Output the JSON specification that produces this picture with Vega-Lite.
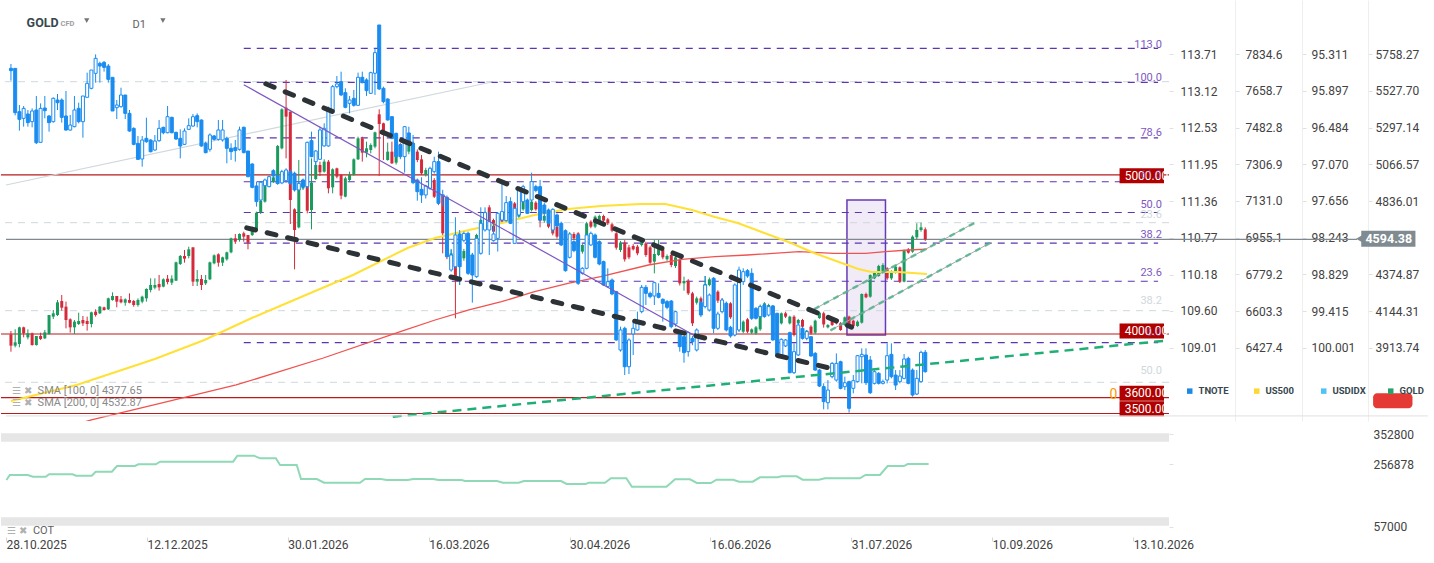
{
  "$schema": "https://vega.github.io/schema/vega-lite/v6.json",
  "background": "white",
  "padding": 0,
  "spacing": 1,
  "config": {"view": {"stroke": null}, "font": "Roboto"},
  "datasets": {
    "gold": [
      {"i":0,"o":3997.8,"h":4018.7,"l":3888.8,"c":3926.5},{"i":1,"o":3926.5,"h":4029.2,"l":3916,"c":3947.5},{"i":2,"o":3937,"h":4046,"l":3916,"c":4041.8},
      {"i":3,"o":4041.8,"h":4046,"l":3979,"c":4004.1},{"i":4,"o":3979,"h":4029.2,"l":3966.3,"c":4004.1},{"i":5,"o":4004.1,"h":4008.3,"l":3926.5,"c":3930.7},
      {"i":6,"o":3930.7,"h":3987.3,"l":3926.5,"c":3987.3},{"i":7,"o":3987.3,"h":4008.3,"l":3962.2,"c":3968.4},{"i":8,"o":3972.6,"h":4025.1,"l":3968.4,"c":4010.4},
      {"i":9,"o":3999.9,"h":4119.4,"l":3995.7,"c":4119.4},{"i":10,"o":4108.9,"h":4150.8,"l":4094.2,"c":4129.8},{"i":11,"o":4119.4,"h":4213.6,"l":4113,"c":4199},
      {"i":12,"o":4207.3,"h":4245.1,"l":4146.6,"c":4165.4},{"i":13,"o":4171.7,"h":4203.2,"l":4035.5,"c":4087.9},{"i":14,"o":4092.1,"h":4098.4,"l":4008.3,"c":4041.8},
      {"i":15,"o":4041.8,"h":4087.9,"l":3999.9,"c":4077.4},{"i":16,"o":4062.7,"h":4134,"l":4056.5,"c":4081.6},{"i":17,"o":4087.9,"h":4113,"l":4050.2,"c":4067},
      {"i":18,"o":4081.6,"h":4108.9,"l":4020.9,"c":4062.7},{"i":19,"o":4062.7,"h":4140.3,"l":4041.8,"c":4136.1},{"i":20,"o":4140.3,"h":4154.9,"l":4108.9,"c":4119.4},
      {"i":21,"o":4129.8,"h":4175.9,"l":4125.6,"c":4171.7},{"i":22,"o":4167.5,"h":4171.7,"l":4146.6,"c":4150.8},{"i":23,"o":4154.9,"h":4228.3,"l":4150.8,"c":4224.1},
      {"i":24,"o":4213.6,"h":4261.8,"l":4209.4,"c":4238.8},{"i":25,"o":4238.8,"h":4238.8,"l":4167.5,"c":4203.2},{"i":26,"o":4217.8,"h":4238.8,"l":4192.7,"c":4199},
      {"i":27,"o":4196.9,"h":4224.1,"l":4178,"c":4217.8},{"i":28,"o":4213.6,"h":4255.5,"l":4192.7,"c":4196.9},{"i":29,"o":4207.3,"h":4213.6,"l":4171.7,"c":4182.2},
      {"i":30,"o":4182.2,"h":4224.1,"l":4171.7,"c":4213.6},{"i":31,"o":4203.2,"h":4240.9,"l":4192.7,"c":4234.6},{"i":32,"o":4224.1,"h":4287,"l":4203.2,"c":4282.8},
      {"i":33,"o":4276.5,"h":4349.9,"l":4261.8,"c":4307.9},{"i":34,"o":4291.2,"h":4349.9,"l":4280.7,"c":4307.9},{"i":35,"o":4314.2,"h":4370.8,"l":4272.3,"c":4293.3},
      {"i":36,"o":4297.5,"h":4349.9,"l":4293.3,"c":4343.6},{"i":37,"o":4347.8,"h":4370.8,"l":4312.1,"c":4326.8},{"i":38,"o":4322.6,"h":4368.7,"l":4307.9,"c":4347.8},
      {"i":39,"o":4335.2,"h":4454.7,"l":4333.1,"c":4450.5},{"i":40,"o":4440,"h":4496.6,"l":4433.7,"c":4490.3},{"i":41,"o":4490.3,"h":4528,"l":4448.4,"c":4473.5},
      {"i":42,"o":4490.3,"h":4549,"l":4475.6,"c":4532.2},{"i":43,"o":4544.8,"h":4544.8,"l":4301.6,"c":4328.9},{"i":44,"o":4328.9,"h":4402.2,"l":4301.6,"c":4345.7},
      {"i":45,"o":4345.7,"h":4370.8,"l":4276.5,"c":4307.9},{"i":46,"o":4318.5,"h":4370.9,"l":4308,"c":4339.4},{"i":47,"o":4343.6,"h":4454.7,"l":4339.4,"c":4450.5},
      {"i":48,"o":4444.2,"h":4500.8,"l":4437.9,"c":4494.5},{"i":49,"o":4500.8,"h":4507.1,"l":4423.3,"c":4448.4},{"i":50,"o":4448.4,"h":4486.1,"l":4427.5,"c":4481.9},
      {"i":51,"o":4469.4,"h":4517.5,"l":4461,"c":4513.4},{"i":52,"o":4513.4,"h":4605.6,"l":4507.1,"c":4601.4},{"i":53,"o":4601.4,"h":4628.6,"l":4565.8,"c":4580.4},
      {"i":54,"o":4590.9,"h":4632.8,"l":4580.4,"c":4628.6},{"i":55,"o":4632.8,"h":4643.3,"l":4580.4,"c":4611.9},{"i":56,"o":4622.3,"h":4622.3,"l":4532.2,"c":4574.1},
      {"i":57,"o":4622.3,"h":4674.7,"l":4616,"c":4649.6},{"i":58,"o":4649.6,"h":4769,"l":4643.3,"c":4762.7},{"i":59,"o":4762.7,"h":4842.4,"l":4754.3,"c":4838.2},
      {"i":60,"o":4831.9,"h":4947.2,"l":4825.6,"c":4943},{"i":61,"o":4947.2,"h":4993.3,"l":4943,"c":4989.1},{"i":62,"o":4957.7,"h":5000,"l":4950,"c":4984.9},
      {"i":63,"o":4957.7,"h":5188.2,"l":4947.2,"c":5181.9},{"i":64,"o":5167.2,"h":5418.7,"l":5160.9,"c":5412.4},{"i":65,"o":5422.9,"h":5596.8,"l":5104.3,"c":5366.3},
      {"i":66,"o":5397.7,"h":5397.7,"l":4691.5,"c":4842.4},{"i":67,"o":4783.7,"h":4790,"l":4406.5,"c":4653.8},{"i":68,"o":4670.5,"h":5093.9,"l":4664.2,"c":4947.2},
      {"i":69,"o":4915.7,"h":4972.3,"l":4905.2,"c":4968.1},{"i":70,"o":5104.3,"h":5114.8,"l":4758.6,"c":4775.3},{"i":71,"o":4779.5,"h":5104.3,"l":4658,"c":4951.4},
      {"i":72,"o":4974.4,"h":5093.9,"l":4968.1,"c":5062.4},{"i":73,"o":5062.4,"h":5083.4,"l":4993.3,"c":5016.3},{"i":74,"o":5020.5,"h":5098,"l":5014.2,"c":5083.4},
      {"i":75,"o":5083.4,"h":5093.9,"l":4884.3,"c":4915.7},{"i":76,"o":4922,"h":5041.5,"l":4884.3,"c":5035.2},{"i":77,"o":5041.5,"h":5045.7,"l":4978.6,"c":4989.1},
      {"i":78,"o":4999.6,"h":5003.8,"l":4846.6,"c":4869.6},{"i":79,"o":4863.3,"h":4989.1,"l":4859.1,"c":4978.6},{"i":80,"o":4968.1,"h":5020.5,"l":4957.7,"c":4999.6},
      {"i":81,"o":4999.6,"h":5104.3,"l":4995.4,"c":5098},{"i":82,"o":5098,"h":5240.5,"l":5093.9,"c":5230.1},{"i":83,"o":5230.1,"h":5240.5,"l":5083.4,"c":5140},
      {"i":84,"o":5140,"h":5209.1,"l":5110.6,"c":5167.2},{"i":85,"o":5156.7,"h":5198.6,"l":5135.8,"c":5188.2},{"i":86,"o":5177.7,"h":5272,"l":5167.2,"c":5267.8},
      {"i":87,"o":5380.9,"h":5412.4,"l":4993.3,"c":5320.2},{"i":88,"o":5324.4,"h":5328.5,"l":5093.9,"c":5251},{"i":89,"o":5093.9,"h":5202.8,"l":5089.6,"c":5146.2},
      {"i":90,"o":5146.2,"h":5209.1,"l":5068.7,"c":5072.9},{"i":91,"o":5077,"h":5170,"l":5065,"c":5161},{"i":92,"o":5194.4,"h":5198.6,"l":5110.6,"c":5156.7},
      {"i":93,"o":5180,"h":5200,"l":5130,"c":5150},{"i":94,"o":5146.2,"h":5215,"l":5130,"c":5202.8},{"i":95,"o":5200,"h":5210,"l":5150,"c":5165},
      {"i":96,"o":5146.2,"h":5160,"l":5080,"c":5093.8},{"i":97,"o":5098,"h":5125,"l":5000,"c":5010},{"i":98,"o":5000,"h":5045,"l":4990,"c":5031},
      {"i":99,"o":5031,"h":5040,"l":4950,"c":4968},{"i":100,"o":4968,"h":4980,"l":4855,"c":4863},{"i":101,"o":4867.5,"h":4885,"l":4810,"c":4825.6},
      {"i":102,"o":4867.5,"h":4873.8,"l":4507.1,"c":4632.8},{"i":103,"o":4632.8,"h":4650,"l":4470,"c":4486.1},{"i":104,"o":4440,"h":4532,"l":4402,"c":4507.1},
      {"i":105,"o":4444,"h":4455,"l":4098.4,"c":4339.4},{"i":106,"o":4423.2,"h":4528,"l":4308,"c":4490.3},{"i":107,"o":4475.6,"h":4535,"l":4460,"c":4521.7},
      {"i":108,"o":4528,"h":4560,"l":4380,"c":4391.8},{"i":109,"o":4391.8,"h":4510,"l":4370,"c":4496.6},{"i":110,"o":4496.6,"h":4630,"l":4485,"c":4622.3},
      {"i":111,"o":4622.3,"h":4725,"l":4610,"c":4716.6},{"i":112,"o":4664.2,"h":4770,"l":4655,"c":4762.7},{"i":113,"o":4796.3,"h":4810,"l":4695,"c":4706.1},
      {"i":114,"o":4716,"h":4725,"l":4630,"c":4643},{"i":115,"o":4643,"h":4745,"l":4635,"c":4737.6},{"i":116,"o":4727,"h":4740,"l":4695,"c":4706},
      {"i":117,"o":4712.4,"h":4790,"l":4700,"c":4779.5},{"i":118,"o":4769,"h":4830,"l":4760,"c":4821.4},{"i":119,"o":4821,"h":4830,"l":4725,"c":4737.6},
      {"i":120,"o":4737.6,"h":4795,"l":4730,"c":4783.7},{"i":121,"o":4783.7,"h":4850,"l":4775,"c":4842.4},{"i":122,"o":4832,"h":4845,"l":4780,"c":4790},
      {"i":123,"o":4779,"h":4840,"l":4770,"c":4832},{"i":124,"o":4825.6,"h":4835,"l":4775,"c":4783.7},{"i":125,"o":4800.5,"h":4810,"l":4670.5,"c":4712.4},
      {"i":126,"o":4712.4,"h":4750,"l":4700,"c":4741.8},{"i":127,"o":4741.8,"h":4750,"l":4665,"c":4674.7},{"i":128,"o":4716,"h":4725,"l":4620,"c":4632},
      {"i":129,"o":4674,"h":4680,"l":4600,"c":4612},{"i":130,"o":4637,"h":4650,"l":4585,"c":4595},{"i":131,"o":4587,"h":4620,"l":4575,"c":4612},
      {"i":132,"o":4590.9,"h":4640,"l":4580,"c":4628.6},{"i":133,"o":4628.6,"h":4640,"l":4590,"c":4601.4},{"i":134,"o":4632.8,"h":4640,"l":4540,"c":4549},
      {"i":135,"o":4517.5,"h":4565,"l":4505,"c":4559.5},{"i":136,"o":4559.5,"h":4705,"l":4550,"c":4695.7},{"i":137,"o":4706.1,"h":4715,"l":4665,"c":4674.7},
      {"i":138,"o":4674.7,"h":4745,"l":4665,"c":4737.6},{"i":139,"o":4706,"h":4750,"l":4700,"c":4741.8},{"i":140,"o":4741.8,"h":4750,"l":4700,"c":4712.4},
      {"i":141,"o":4720.8,"h":4730,"l":4685,"c":4695.7},{"i":142,"o":4689.4,"h":4700,"l":4640,"c":4649.6},{"i":143,"o":4632.8,"h":4640,"l":4530,"c":4542.7},
      {"i":144,"o":4527.9,"h":4585,"l":4515,"c":4574.1},{"i":145,"o":4574.1,"h":4590,"l":4455,"c":4469.3},{"i":146,"o":4544.7,"h":4560,"l":4470,"c":4481.9},
      {"i":147,"o":4553.1,"h":4565,"l":4525,"c":4532.2},{"i":148,"o":4548.9,"h":4560,"l":4495,"c":4507},{"i":149,"o":4559.4,"h":4595,"l":4550,"c":4580.3},
      {"i":150,"o":4569.8,"h":4580,"l":4485,"c":4496.5},{"i":151,"o":4544.7,"h":4555,"l":4435,"c":4448.3},{"i":152,"o":4454.6,"h":4590.9,"l":4381.3,"c":4502.8},
      {"i":153,"o":4496.5,"h":4590.9,"l":4490.3,"c":4553.1},{"i":154,"o":4532.2,"h":4545,"l":4470,"c":4481.9},{"i":155,"o":4469.3,"h":4500,"l":4460,"c":4490.3},
      {"i":156,"o":4496.5,"h":4505,"l":4420,"c":4433.7},{"i":157,"o":4427.4,"h":4495,"l":4415,"c":4481.9},{"i":158,"o":4465.1,"h":4475,"l":4305,"c":4318.4},
      {"i":159,"o":4318.4,"h":4360.3,"l":4272.3,"c":4333.1},{"i":160,"o":4335.2,"h":4345,"l":4245,"c":4255.5},{"i":161,"o":4255.5,"h":4265,"l":4050,"c":4067},
      {"i":162,"o":4196.8,"h":4235,"l":4185,"c":4224.1},{"i":163,"o":4224.1,"h":4235,"l":4185,"c":4196.8},{"i":164,"o":4266,"h":4364.5,"l":4255,"c":4314.2},
      {"i":165,"o":4307.9,"h":4355,"l":4300,"c":4343.6},{"i":166,"o":4343.6,"h":4355,"l":4260,"c":4272.3},{"i":167,"o":4266,"h":4275,"l":4195,"c":4209.4},
      {"i":168,"o":4213.6,"h":4225,"l":4140,"c":4150.8},{"i":169,"o":4150.8,"h":4200,"l":4140,"c":4192.7},{"i":170,"o":4192.7,"h":4200,"l":4095,"c":4104.7},
      {"i":171,"o":4029.2,"h":4040,"l":3985,"c":3993.6},{"i":172,"o":4025,"h":4055,"l":4015,"c":4046},{"i":173,"o":4014.5,"h":4085,"l":4005,"c":4077.4},
      {"i":174,"o":4092.1,"h":4100,"l":4005,"c":4014.5},{"i":175,"o":4008.3,"h":4035,"l":4000,"c":4029.2},{"i":176,"o":4004.1,"h":4050,"l":3995,"c":4041.8},
      {"i":177,"o":4029.2,"h":4185,"l":4020,"c":4175.9},{"i":178,"o":4171.7,"h":4200,"l":4160,"c":4192.7},{"i":179,"o":4155,"h":4190,"l":4145,"c":4182},
      {"i":180,"o":4171.7,"h":4180,"l":4100,"c":4108.9},{"i":181,"o":4113,"h":4120,"l":4060,"c":4071.2},{"i":182,"o":4066.9,"h":4135,"l":4060,"c":4129.8},
      {"i":183,"o":4129.8,"h":4140,"l":4100,"c":4108.9},{"i":184,"o":4066.9,"h":4115,"l":4060,"c":4108.9},{"i":185,"o":4108.9,"h":4118,"l":3985,"c":3993.6},
      {"i":186,"o":4066.9,"h":4095,"l":4060,"c":4087.9},{"i":187,"o":4087.9,"h":4095,"l":4035,"c":4045.9},{"i":188,"o":3983.1,"h":4025,"l":3975,"c":4020.8},
      {"i":189,"o":4046,"h":4055,"l":3995,"c":4004},{"i":190,"o":4008.3,"h":4090,"l":4000,"c":4083.7},{"i":191,"o":4100,"h":4140,"l":4095,"c":4134},
      {"i":192,"o":4130,"h":4140,"l":4040,"c":4060},{"i":193,"o":4041.8,"h":4062,"l":4035,"c":4056.5},{"i":194,"o":4092.1,"h":4100,"l":4050,"c":4056.5},
      {"i":195,"o":4087.9,"h":4095,"l":4060,"c":4067},{"i":196,"o":4067,"h":4075,"l":4020,"c":4025},{"i":197,"o":4056.5,"h":4110,"l":4050,"c":4104.7},
      {"i":198,"o":4108.9,"h":4115,"l":4040,"c":4046},{"i":199,"o":4083.7,"h":4090,"l":4045,"c":4050.2},{"i":200,"o":4050.2,"h":4085,"l":4045,"c":4077.4},
      {"i":201,"o":4071.2,"h":4255,"l":4065,"c":4251.4},{"i":202,"o":4251.4,"h":4260,"l":4225,"c":4230.4},{"i":203,"o":4234.6,"h":4375,"l":4228,"c":4370.8},
      {"i":204,"o":4349.9,"h":4395,"l":4345,"c":4385.5},{"i":205,"o":4364.5,"h":4435,"l":4360,"c":4427.4},{"i":206,"o":4391.8,"h":4445,"l":4385,"c":4433.7},
      {"i":207,"o":4412.7,"h":4420,"l":4340,"c":4349.9},{"i":208,"o":4349.9,"h":4400,"l":4340,"c":4391.8},{"i":209,"o":4385.5,"h":4430,"l":4380,"c":4423.2},
      {"i":210,"o":4419,"h":4425,"l":4320,"c":4329},{"i":211,"o":4329,"h":4530,"l":4325,"c":4523.8},{"i":212,"o":4532.2,"h":4540,"l":4505,"c":4511.2},
      {"i":213,"o":4517.5,"h":4620,"l":4510,"c":4611.8},{"i":214,"o":4607.6,"h":4695.6,"l":4595,"c":4653.7},{"i":215,"o":4653.7,"h":4699.8,"l":4643,"c":4670.5},
      {"i":216,"o":4657.9,"h":4670,"l":4585,"c":4594.38}
    ],
    "tnote": [
      {"i":0,"o":113.485,"h":113.555,"l":113.288,"c":113.448},{"i":1,"o":113.485,"h":113.485,"l":112.732,"c":112.775},{"i":2,"o":112.791,"h":112.898,"l":112.487,"c":112.668},
      {"i":3,"o":112.684,"h":112.882,"l":112.551,"c":112.844},{"i":4,"o":112.754,"h":112.818,"l":112.551,"c":112.615},{"i":5,"o":112.631,"h":112.844,"l":112.54,"c":112.802},
      {"i":6,"o":112.818,"h":113.042,"l":112.273,"c":112.294},{"i":7,"o":112.3,"h":112.924,"l":112.3,"c":112.844},{"i":8,"o":112.85,"h":113.042,"l":112.684,"c":112.807},
      {"i":9,"o":112.722,"h":112.738,"l":112.471,"c":112.615},{"i":10,"o":112.631,"h":113.021,"l":112.615,"c":113.005},{"i":11,"o":112.978,"h":113.074,"l":112.818,"c":112.935},
      {"i":12,"o":112.978,"h":113.005,"l":112.615,"c":112.7},{"i":13,"o":112.722,"h":113.122,"l":112.487,"c":112.497},{"i":14,"o":112.497,"h":112.738,"l":112.487,"c":112.577},
      {"i":15,"o":112.551,"h":113.042,"l":112.54,"c":112.818},{"i":16,"o":112.844,"h":112.935,"l":112.604,"c":112.631},{"i":17,"o":112.631,"h":113.042,"l":112.374,"c":113.042},
      {"i":18,"o":113.021,"h":113.416,"l":113.021,"c":113.245},{"i":19,"o":113.165,"h":113.458,"l":113.149,"c":113.458},{"i":20,"o":113.405,"h":113.709,"l":113.256,"c":113.645},
      {"i":21,"o":113.565,"h":113.592,"l":113.256,"c":113.522},{"i":22,"o":113.581,"h":113.603,"l":113.432,"c":113.501},{"i":23,"o":113.522,"h":113.555,"l":113.256,"c":113.309},
      {"i":24,"o":113.341,"h":113.341,"l":112.802,"c":112.802},{"i":25,"o":112.855,"h":112.978,"l":112.673,"c":112.898},{"i":26,"o":112.871,"h":113.175,"l":112.855,"c":113.058},
      {"i":27,"o":113.058,"h":113.058,"l":112.673,"c":112.764},{"i":28,"o":112.764,"h":112.818,"l":112.471,"c":112.481},{"i":29,"o":112.524,"h":112.54,"l":112.252,"c":112.268},
      {"i":30,"o":112.284,"h":112.401,"l":112.017,"c":112.027},{"i":31,"o":112.033,"h":112.401,"l":111.91,"c":112.337},{"i":32,"o":112.364,"h":112.695,"l":112.294,"c":112.31},
      {"i":33,"o":112.337,"h":112.348,"l":112.139,"c":112.15},{"i":34,"o":112.177,"h":112.417,"l":112.166,"c":112.321},{"i":35,"o":112.326,"h":112.657,"l":112.31,"c":112.524},
      {"i":36,"o":112.54,"h":112.551,"l":112.428,"c":112.454},{"i":37,"o":112.454,"h":112.882,"l":112.444,"c":112.711},{"i":38,"o":112.7,"h":112.711,"l":112.444,"c":112.454},
      {"i":39,"o":112.46,"h":112.471,"l":112.337,"c":112.353},{"i":40,"o":112.364,"h":112.508,"l":112.043,"c":112.241},{"i":41,"o":112.268,"h":112.524,"l":112.257,"c":112.481},
      {"i":42,"o":112.508,"h":112.684,"l":112.497,"c":112.567},{"i":43,"o":112.561,"h":112.754,"l":112.551,"c":112.711},{"i":44,"o":112.727,"h":112.764,"l":112.54,"c":112.631},
      {"i":45,"o":112.657,"h":112.668,"l":112.23,"c":112.241},{"i":46,"o":112.284,"h":112.311,"l":112.124,"c":112.135},{"i":47,"o":112.188,"h":112.444,"l":112.151,"c":112.418},
      {"i":48,"o":112.402,"h":112.418,"l":112.327,"c":112.348},{"i":49,"o":112.348,"h":112.658,"l":112.327,"c":112.498},{"i":50,"o":112.338,"h":112.658,"l":112.311,"c":112.498},
      {"i":51,"o":112.364,"h":112.391,"l":111.964,"c":112.204},{"i":52,"o":112.204,"h":112.284,"l":112.017,"c":112.151},{"i":53,"o":112.215,"h":112.338,"l":111.991,"c":112.167},
      {"i":54,"o":112.188,"h":112.551,"l":112.167,"c":112.498},{"i":55,"o":112.541,"h":112.551,"l":112.124,"c":112.135},{"i":56,"o":112.161,"h":112.161,"l":111.74,"c":111.75},
      {"i":57,"o":111.953,"h":111.964,"l":111.563,"c":111.579},{"i":58,"o":111.601,"h":111.67,"l":111.27,"c":111.35},{"i":59,"o":111.376,"h":111.681,"l":111.35,"c":111.66},
      {"i":60,"o":111.606,"h":111.72,"l":111.58,"c":111.697},{"i":61,"o":111.59,"h":111.77,"l":111.58,"c":111.75},{"i":62,"o":111.846,"h":111.87,"l":111.74,"c":111.761},
      {"i":63,"o":111.76,"h":111.78,"l":111.62,"c":111.64},{"i":64,"o":111.65,"h":111.86,"l":111.63,"c":111.83},{"i":65,"o":111.686,"h":111.884,"l":111.654,"c":111.857},
      {"i":66,"o":111.83,"h":111.86,"l":111.62,"c":111.64},{"i":67,"o":111.804,"h":111.83,"l":111.51,"c":111.537},{"i":68,"o":111.537,"h":111.68,"l":111.52,"c":111.643},
      {"i":69,"o":111.697,"h":111.72,"l":111.56,"c":111.59},{"i":70,"o":111.59,"h":112.311,"l":111.563,"c":112.3},{"i":71,"o":112.327,"h":112.471,"l":112.06,"c":112.071},
      {"i":72,"o":111.991,"h":112.177,"l":111.91,"c":112.161},{"i":73,"o":112.028,"h":112.551,"l":112.017,"c":112.498},{"i":74,"o":112.242,"h":112.605,"l":112.231,"c":112.525},
      {"i":75,"o":112.242,"h":112.872,"l":112.231,"c":112.845},{"i":76,"o":112.776,"h":113.219,"l":112.765,"c":113.192},{"i":77,"o":113.192,"h":113.363,"l":113.165,"c":113.235},
      {"i":78,"o":113.272,"h":113.432,"l":113.043,"c":113.059},{"i":79,"o":113.096,"h":113.165,"l":112.845,"c":112.861},{"i":80,"o":112.925,"h":113.043,"l":112.765,"c":112.978},
      {"i":81,"o":113.005,"h":113.139,"l":112.872,"c":112.893},{"i":82,"o":112.893,"h":113.416,"l":112.882,"c":113.342},{"i":83,"o":113.342,"h":113.432,"l":113.245,"c":113.256},
      {"i":84,"o":113.299,"h":113.326,"l":113.043,"c":113.128},{"i":85,"o":113.085,"h":113.432,"l":113.075,"c":113.416},{"i":86,"o":113.406,"h":113.806,"l":113.059,"c":113.737},
      {"i":87,"o":114.18,"h":114.18,"l":113.139,"c":113.155},{"i":88,"o":113.165,"h":113.192,"l":112.925,"c":112.952},{"i":89,"o":112.994,"h":113.005,"l":112.647,"c":112.658},
      {"i":90,"o":112.711,"h":112.722,"l":112.348,"c":112.364},{"i":91,"o":112.444,"h":112.455,"l":112.06,"c":112.071},{"i":92,"o":112.258,"h":112.28,"l":112.03,"c":112.071},
      {"i":93,"o":112.071,"h":112.562,"l":111.815,"c":112.551},{"i":94,"o":112.45,"h":112.55,"l":112.25,"c":112.3},{"i":95,"o":112.284,"h":112.418,"l":111.63,"c":111.654},
      {"i":96,"o":111.697,"h":111.72,"l":111.366,"c":111.51},{"i":97,"o":111.547,"h":111.74,"l":111.33,"c":111.457},{"i":98,"o":111.457,"h":111.62,"l":111.4,"c":111.601},
      {"i":99,"o":111.563,"h":111.91,"l":111.54,"c":111.884},{"i":100,"o":111.83,"h":112.07,"l":111.8,"c":111.991},{"i":101,"o":111.991,"h":112.151,"l":111.3,"c":111.323},
      {"i":102,"o":111.44,"h":111.54,"l":111.27,"c":111.46},{"i":103,"o":111.419,"h":111.45,"l":110.458,"c":110.469},{"i":104,"o":110.255,"h":110.585,"l":110.228,"c":110.495},
      {"i":105,"o":110.308,"h":111.099,"l":110.282,"c":110.816},{"i":106,"o":110.832,"h":110.896,"l":110.015,"c":110.308},{"i":107,"o":110.73,"h":110.87,"l":110.7,"c":110.84},
      {"i":108,"o":110.842,"h":110.87,"l":110.175,"c":110.202},{"i":109,"o":110.495,"h":110.52,"l":109.732,"c":110.175},{"i":110,"o":110.148,"h":110.79,"l":110.13,"c":110.762},
      {"i":111,"o":110.522,"h":111.259,"l":110.5,"c":111.003},{"i":112,"o":110.896,"h":111.259,"l":110.869,"c":111.174},{"i":113,"o":110.896,"h":111.19,"l":110.495,"c":111.029},
      {"i":114,"o":110.725,"h":111.003,"l":110.71,"c":110.832},{"i":115,"o":110.762,"h":111.174,"l":110.55,"c":111.163},{"i":116,"o":111.056,"h":111.644,"l":111.03,"c":111.19},
      {"i":117,"o":111.045,"h":111.44,"l":111.03,"c":111.334},{"i":118,"o":111.35,"h":111.42,"l":110.99,"c":111.003},{"i":119,"o":110.682,"h":111.26,"l":110.67,"c":111.243},
      {"i":120,"o":111.136,"h":111.59,"l":111.11,"c":111.537},{"i":121,"o":111.35,"h":111.62,"l":111.33,"c":111.59},{"i":122,"o":111.376,"h":111.4,"l":111.15,"c":111.163},
      {"i":123,"o":111.376,"h":111.814,"l":111.35,"c":111.67},{"i":124,"o":111.59,"h":111.62,"l":111.5,"c":111.53},{"i":125,"o":111.59,"h":111.697,"l":111.03,"c":111.056},
      {"i":126,"o":111.296,"h":111.334,"l":111.045,"c":111.163},{"i":127,"o":111.216,"h":111.24,"l":110.98,"c":111.003},{"i":128,"o":110.896,"h":111.243,"l":110.853,"c":111.227},
      {"i":129,"o":111.136,"h":111.16,"l":110.94,"c":110.96},{"i":130,"o":111.003,"h":111.03,"l":110.64,"c":110.656},{"i":131,"o":110.885,"h":110.906,"l":110.228,"c":110.244},
      {"i":132,"o":110.458,"h":110.85,"l":110.44,"c":110.832},{"i":133,"o":110.709,"h":110.73,"l":110.54,"c":110.565},{"i":134,"o":110.816,"h":110.832,"l":110.015,"c":110.042},
      {"i":135,"o":110.202,"h":110.3,"l":110.18,"c":110.282},{"i":136,"o":110.282,"h":110.832,"l":110.266,"c":110.816},{"i":137,"o":110.656,"h":110.87,"l":110.64,"c":110.842},
      {"i":138,"o":110.816,"h":110.84,"l":110.44,"c":110.458},{"i":139,"o":110.709,"h":110.73,"l":110.33,"c":110.351},{"i":140,"o":110.389,"h":110.405,"l":109.999,"c":110.015},
      {"i":141,"o":109.988,"h":110.282,"l":109.97,"c":110.068},{"i":142,"o":110.095,"h":110.12,"l":109.85,"c":109.871},{"i":143,"o":109.908,"h":109.92,"l":109.123,"c":109.134},
      {"i":144,"o":108.973,"h":109.347,"l":108.947,"c":109.294},{"i":145,"o":109.321,"h":109.347,"l":108.573,"c":108.706},{"i":146,"o":108.706,"h":109.16,"l":108.589,"c":109.134},
      {"i":147,"o":109.23,"h":109.411,"l":108.893,"c":109.321},{"i":148,"o":109.294,"h":109.588,"l":109.283,"c":109.427},{"i":149,"o":109.588,"h":110.015,"l":109.561,"c":109.977},
      {"i":150,"o":109.977,"h":110.015,"l":109.694,"c":109.881},{"i":151,"o":109.881,"h":109.908,"l":109.801,"c":109.828},{"i":152,"o":109.838,"h":110.068,"l":109.694,"c":110.052},
      {"i":153,"o":109.881,"h":110.041,"l":109.801,"c":109.817},{"i":154,"o":109.785,"h":109.801,"l":109.427,"c":109.721},{"i":155,"o":109.748,"h":109.774,"l":109.625,"c":109.657},
      {"i":156,"o":109.758,"h":109.774,"l":109.321,"c":109.347},{"i":157,"o":109.39,"h":109.604,"l":109.347,"c":109.587},{"i":158,"o":109.251,"h":109.267,"l":108.947,"c":109.027},
      {"i":159,"o":109.187,"h":109.198,"l":108.77,"c":108.931},{"i":160,"o":108.947,"h":109.267,"l":108.867,"c":109.251},{"i":161,"o":109.16,"h":109.2,"l":109.05,"c":109.107},
      {"i":162,"o":108.973,"h":109.32,"l":108.95,"c":109.294},{"i":163,"o":109.732,"h":109.76,"l":109.5,"c":109.534},{"i":164,"o":109.668,"h":110.159,"l":109.641,"c":110.015},
      {"i":165,"o":109.614,"h":109.88,"l":109.59,"c":109.854},{"i":166,"o":110.122,"h":110.138,"l":109.241,"c":109.321},{"i":167,"o":109.321,"h":109.587,"l":109.294,"c":109.55},
      {"i":168,"o":109.587,"h":109.8,"l":109.56,"c":109.774},{"i":169,"o":109.721,"h":109.75,"l":109.27,"c":109.294},{"i":170,"o":109.336,"h":109.36,"l":109.17,"c":109.198},
      {"i":171,"o":109.214,"h":110.041,"l":109.198,"c":110.015},{"i":172,"o":109.294,"h":110.308,"l":109.267,"c":110.255},{"i":173,"o":110.068,"h":110.282,"l":110.015,"c":110.228},
      {"i":174,"o":110.244,"h":110.27,"l":110.13,"c":110.159},{"i":175,"o":110.202,"h":110.282,"l":109.454,"c":109.481},{"i":176,"o":109.641,"h":109.66,"l":109.46,"c":109.481},
      {"i":177,"o":109.508,"h":109.69,"l":109.49,"c":109.668},{"i":178,"o":109.694,"h":109.72,"l":109.49,"c":109.508},{"i":179,"o":109.534,"h":109.69,"l":109.51,"c":109.668},
      {"i":180,"o":109.679,"h":109.694,"l":109.123,"c":109.134},{"i":181,"o":109.561,"h":109.571,"l":108.867,"c":108.877},{"i":182,"o":108.893,"h":109.16,"l":108.877,"c":109.144},
      {"i":183,"o":109.038,"h":109.15,"l":109.02,"c":109.134},{"i":184,"o":109.251,"h":109.267,"l":108.6,"c":108.61},{"i":185,"o":108.61,"h":109.08,"l":108.589,"c":108.947},
      {"i":186,"o":108.894,"h":109.427,"l":108.877,"c":109.374},{"i":187,"o":109.321,"h":109.34,"l":109.14,"c":109.16},{"i":188,"o":109.16,"h":109.28,"l":109.13,"c":109.27},
      {"i":189,"o":109.186,"h":109.197,"l":108.866,"c":108.877},{"i":190,"o":108.92,"h":108.94,"l":108.64,"c":108.652},{"i":191,"o":108.652,"h":108.67,"l":108.38,"c":108.396},
      {"i":192,"o":108.386,"h":108.44,"l":108.023,"c":108.146},{"i":193,"o":108.129,"h":108.492,"l":108.022,"c":108.332},{"i":194,"o":108.546,"h":108.78,"l":108.52,"c":108.759},
      {"i":195,"o":108.492,"h":108.919,"l":108.466,"c":108.759},{"i":196,"o":108.786,"h":108.802,"l":108.343,"c":108.359},{"i":197,"o":108.385,"h":108.546,"l":108.332,"c":108.449},
      {"i":198,"o":108.466,"h":108.482,"l":107.969,"c":108.039},{"i":199,"o":108.359,"h":108.572,"l":108.279,"c":108.482},{"i":200,"o":108.466,"h":108.893,"l":108.45,"c":108.882},
      {"i":201,"o":108.866,"h":109.0,"l":108.439,"c":108.903},{"i":202,"o":108.893,"h":109.0,"l":108.412,"c":108.449},{"i":203,"o":108.813,"h":108.877,"l":108.268,"c":108.289},
      {"i":204,"o":108.439,"h":108.65,"l":108.42,"c":108.626},{"i":205,"o":108.599,"h":108.62,"l":108.42,"c":108.439},{"i":206,"o":108.439,"h":108.5,"l":108.42,"c":108.466},
      {"i":207,"o":108.492,"h":109.08,"l":108.439,"c":108.882},{"i":208,"o":108.903,"h":109.08,"l":108.519,"c":108.546},{"i":209,"o":108.572,"h":108.652,"l":108.332,"c":108.412},
      {"i":210,"o":108.466,"h":108.652,"l":108.439,"c":108.556},{"i":211,"o":108.519,"h":108.909,"l":108.503,"c":108.829},{"i":212,"o":108.839,"h":108.866,"l":108.423,"c":108.439},
      {"i":213,"o":108.652,"h":108.679,"l":108.225,"c":108.252},{"i":214,"o":108.268,"h":108.652,"l":108.252,"c":108.519},{"i":215,"o":108.466,"h":108.962,"l":108.45,"c":108.936},
      {"i":216,"o":108.936,"h":108.973,"l":108.61,"c":108.626}
    ],
    "sma100": [
      {"i":0,"v":3578.7},{"i":15.5,"v":3679.3},{"i":34,"v":3842.7},{"i":45.7,"v":3962.2},{"i":56.9,"v":4100.4},{"i":69.1,"v":4238.8},
      {"i":80.8,"v":4370.8},{"i":93.7,"v":4540.6},{"i":100.2,"v":4603.4},{"i":108.2,"v":4653.7},{"i":115.9,"v":4697.7},{"i":123.7,"v":4748},
      {"i":131.6,"v":4785.7},{"i":139.3,"v":4804.6},{"i":148.7,"v":4817.2},{"i":154.6,"v":4817.2},{"i":160.9,"v":4779.5},{"i":166.3,"v":4735.5},
      {"i":171.7,"v":4697.7},{"i":178,"v":4634.9},{"i":184.3,"v":4572},{"i":189.7,"v":4509.1},{"i":195.6,"v":4452.5},{"i":200.2,"v":4408.5},
      {"i":203.3,"v":4389.5},{"i":209.6,"v":4389.5},{"i":216.4,"v":4377.65}
    ],
    "sma200": [
      {"i":15,"v":3430},{"i":19,"v":3459.3},{"i":34,"v":3555.5},{"i":53.2,"v":3679.3},{"i":73.8,"v":3849},{"i":92.5,"v":4018.8},{"i":100.2,"v":4087.9},
      {"i":108.2,"v":4150.8},{"i":115.9,"v":4203},{"i":123.7,"v":4265.9},{"i":131.6,"v":4318.6},{"i":139.3,"v":4360.2},{"i":150.6,"v":4433.7},
      {"i":158.5,"v":4469.5},{"i":166.3,"v":4485.9},{"i":174,"v":4496.6},{"i":186.2,"v":4517.3},{"i":194.4,"v":4507.3},{"i":201.9,"v":4507.3},
      {"i":206.6,"v":4517.3},{"i":212,"v":4528},{"i":216.4,"v":4532.87}
    ],
    "cot": [
      {"i":0.1,"v":206019},{"i":0.9,"v":221973},{"i":5.1,"v":221973},{"i":6.3,"v":216548},{"i":9.3,"v":216548},{"i":10.1,"v":224206},
      {"i":15.6,"v":224206},{"i":16.4,"v":219739},{"i":20.1,"v":219739},{"i":21,"v":232502},{"i":24.8,"v":232502},{"i":26,"v":250691},
      {"i":30.2,"v":250691},{"i":31,"v":256115},{"i":35.1,"v":256115},{"i":36.1,"v":264411},{"i":53.2,"v":264411},{"i":54.2,"v":283557},
      {"i":58.1,"v":283557},{"i":59.5,"v":275260},{"i":63.2,"v":275260},{"i":64.2,"v":253881},{"i":68.1,"v":253881},{"i":69.1,"v":209209},
      {"i":72.8,"v":209209},{"i":74.5,"v":197403},{"i":82.9,"v":197403},{"i":84.1,"v":209209},{"i":87.8,"v":209209},{"i":89.2,"v":206019},
      {"i":94.1,"v":206019},{"i":95.4,"v":209209},{"i":100,"v":209209},{"i":101.3,"v":206019},{"i":106.7,"v":206019},{"i":107.5,"v":202828},
      {"i":115,"v":202828},{"i":116.4,"v":197403},{"i":120.1,"v":197403},{"i":121.3,"v":202828},{"i":130,"v":202828},{"i":131.3,"v":193255},
      {"i":135.8,"v":193255},{"i":136.5,"v":197403},{"i":140.3,"v":197403},{"i":141.7,"v":211443},{"i":145.3,"v":211443},{"i":146.6,"v":184640},
      {"i":154.7,"v":184640},{"i":156.7,"v":208252},{"i":160.2,"v":208252},{"i":161.8,"v":196446},{"i":165.1,"v":196446},{"i":166.4,"v":206976},
      {"i":170.3,"v":206976},{"i":171.7,"v":200594},{"i":174.9,"v":200594},{"i":176.6,"v":214634},{"i":180.7,"v":214634},{"i":181.7,"v":217825},
      {"i":185.2,"v":217825},{"i":186.6,"v":206976},{"i":190.4,"v":206976},{"i":191.8,"v":211443},{"i":200,"v":211443},{"i":201.3,"v":221973},
      {"i":204.7,"v":221973},{"i":206.5,"v":250500},{"i":210.3,"v":250500},{"i":211.2,"v":256878},{"i":216.1,"v":256878}
    ],
    "fibPurple": [
      {"p":5795.1,"t":"113.0"},{"p":5582.3,"t":"100.0"},{"p":5232.5,"t":"78.6"},{"p":4957,"t":"61.8"},
      {"p":4763.8,"t":"50.0"},{"p":4570.6,"t":"38.2"},{"p":4331.6,"t":"23.6"},{"p":3945.2,"t":"0.0"}
    ],
    "fibGray": [
      {"p":5586.1,"t":"0.0"},{"p":4699.6,"t":"23.6"},{"p":4146.4,"t":"38.2"},{"p":3696.3,"t":"50.0"}
    ],
    "levels": [
      {"p":5000,"t":"5000.00"},{"p":4000,"t":"4000.00"},{"p":3600,"t":"3600.00"},{"p":3500,"t":"3500.00"}
    ],
    "trend": [
      {"name":"gray","i":-1.17,"p":4936.7},{"name":"gray","i":113.6,"p":5584.2},
      {"name":"purple","i":55,"p":5586.1},{"name":"purple","i":162.1,"p":3962.2},
      {"name":"upper","i":60.2,"p":5592.4},{"name":"upper","i":198.6,"p":4025.1},
      {"name":"lower","i":55.7,"p":4664.4},{"name":"lower","i":193.2,"p":3762.9},
      {"name":"long","i":90.2,"p":3448},{"name":"long","i":272.4,"p":3937},
      {"name":"ch1","i":189.7,"p":4140.1},{"name":"ch1","i":227.6,"p":4696},
      {"name":"ch2","i":193.6,"p":4004.3},{"name":"ch2","i":231.5,"p":4570.1}
    ],
    "box": [{"x1":197.5,"x2":206.6,"p1":3993.6,"p2":4842.3}],
    "bands": [{"v1":328230,"v2":355034},{"v1":60195,"v2":86998}]
  },
  "vconcat": [
    {
      "width": 1168,
      "height": 421,
      "resolve": {"scale": {"y": "independent"}},
      "layer": [
        {
          "layer": [
            {
              "data": {"name": "box"},
              "mark": {"type": "rect", "fill": "#ede7f6", "fillOpacity": 0.85, "stroke": "#673ab7", "strokeWidth": 1.5},
              "encoding": {
                "x": {"field": "x1", "type": "quantitative", "scale": {"domain": [-1.17, 272.4], "nice": false, "zero": false}, "axis": null},
                "x2": {"field": "x2"},
                "y": {"field": "p1", "type": "quantitative", "scale": {"domain": [3452.9, 6099.7], "nice": false, "zero": false}, "title": null},
                "y2": {"field": "p2"}
              }
            },
            {
              "data": {"name": "fibGray"},
              "mark": {"type": "rule", "color": "#cfd8dc", "strokeWidth": 1, "strokeDash": [7, 6]},
              "encoding": {"y": {"field": "p", "type": "quantitative", "title": null}}
            },
            {
              "data": {"name": "fibPurple"},
              "mark": {"type": "rule", "color": "#5e35b1", "strokeWidth": 1.2, "strokeDash": [7, 6]},
              "encoding": {
                "x": {"datum": 55, "type": "quantitative", "axis": null},
                "x2": {"datum": 271},
                "y": {"field": "p", "type": "quantitative", "title": null}
              }
            },
            {
              "data": {"name": "levels"},
              "mark": {"type": "rule", "color": "#b71c1c", "strokeWidth": 1.2},
              "encoding": {"y": {"field": "p", "type": "quantitative", "title": null}}
            },
            {
              "data": {"values": [{}]},
              "mark": {"type": "rule", "color": "#80898e", "strokeWidth": 1.3},
              "encoding": {
                "x": {"datum": -1.17, "type": "quantitative", "axis": null},
                "x2": {"datum": 318},
                "y": {"datum": 4594.38, "type": "quantitative", "title": null}
              }
            },
            {
              "data": {"name": "trend"},
              "transform": [{"filter": "datum.name == 'gray'"}],
              "mark": {"type": "line", "color": "#cfd8dc", "strokeWidth": 1.2},
              "encoding": {
                "x": {"field": "i", "type": "quantitative", "axis": null},
                "y": {"field": "p", "type": "quantitative", "title": null}
              }
            },
            {
              "data": {"name": "gold"},
              "mark": {"type": "rule", "strokeWidth": 1},
              "encoding": {
                "x": {"field": "i", "type": "quantitative", "axis": null},
                "y": {"field": "l", "type": "quantitative", "title": null},
                "y2": {"field": "h"},
                "color": {"condition": {"test": "datum.c >= datum.o", "value": "#1b9a5e"}, "value": "#d42a3c"}
              }
            },
            {
              "data": {"name": "gold"},
              "mark": {"type": "bar", "size": 3},
              "encoding": {
                "x": {"field": "i", "type": "quantitative", "axis": null},
                "y": {"field": "o", "type": "quantitative", "title": null},
                "y2": {"field": "c"},
                "color": {"condition": {"test": "datum.c >= datum.o", "value": "#1b9a5e"}, "value": "#d42a3c"}
              }
            },
            {
              "data": {"name": "sma200"},
              "mark": {"type": "line", "color": "#ef5350", "strokeWidth": 1.3, "clip": true},
              "encoding": {
                "x": {"field": "i", "type": "quantitative", "axis": null},
                "y": {"field": "v", "type": "quantitative", "title": null}
              }
            },
            {
              "data": {"name": "sma100"},
              "mark": {"type": "line", "color": "#ffe135", "strokeWidth": 2},
              "encoding": {
                "x": {"field": "i", "type": "quantitative", "axis": null},
                "y": {"field": "v", "type": "quantitative", "title": null,
                  "axis": {"orient": "right", "offset": 199, "values": [5758.27, 5527.70, 5297.14, 5066.57, 4836.01, 4374.87, 4144.31, 3913.74], "format": ".2f",
                    "title": null, "grid": false, "domain": true, "domainColor": "#eeeeee", "tickSize": 4, "tickColor": "#e0e0e0",
                    "labelPadding": 3, "labelFontSize": 12, "labelColor": "#424242", "labelOverlap": false}}
              }
            }
          ]
        },
        {
          "data": {"name": "tnote"},
          "layer": [
            {
              "mark": {"type": "rule", "color": "#1a8cf0", "strokeWidth": 1},
              "encoding": {
                "x": {"field": "i", "type": "quantitative", "axis": null},
                "y": {"field": "l", "type": "quantitative", "scale": {"domain": [107.836, 114.58], "nice": false, "zero": false}, "title": null},
                "y2": {"field": "h"}
              }
            },
            {
              "mark": {"type": "bar", "size": 3, "stroke": "#1a8cf0", "strokeWidth": 1},
              "encoding": {
                "x": {"field": "i", "type": "quantitative", "axis": null},
                "y": {"field": "o", "type": "quantitative", "title": null,
                  "axis": {"orient": "right", "offset": 0, "values": [113.71, 113.12, 112.53, 111.95, 111.36, 110.77, 110.18, 109.60, 109.01], "format": ".2f",
                    "title": null, "grid": false, "domain": false, "tickSize": 4, "tickColor": "#e0e0e0",
                    "labelPadding": 7, "labelFontSize": 12, "labelColor": "#424242", "labelOverlap": false}},
                "y2": {"field": "c"},
                "fill": {"condition": {"test": "datum.c >= datum.o", "value": "#ffffff"}, "value": "#1a8cf0"}
              }
            }
          ]
        },
        {
          "layer": [
            {
              "data": {"name": "trend"},
              "transform": [{"filter": "datum.name == 'purple'"}],
              "mark": {"type": "line", "color": "#7e57c2", "strokeWidth": 1.2},
              "encoding": {
                "x": {"field": "i", "type": "quantitative", "axis": null},
                "y": {"field": "p", "type": "quantitative", "scale": {"domain": [3452.9, 6099.7], "nice": false, "zero": false}, "axis": null}
              }
            },
            {
              "data": {"name": "trend"},
              "transform": [{"filter": "datum.name == 'long'"}],
              "mark": {"type": "line", "color": "#1fae75", "strokeWidth": 2.5, "strokeDash": [9, 6], "clip": true},
              "encoding": {
                "x": {"field": "i", "type": "quantitative", "axis": null},
                "y": {"field": "p", "type": "quantitative", "axis": null}
              }
            },
            {
              "data": {"name": "trend"},
              "transform": [{"filter": "datum.name == 'ch1' || datum.name == 'ch2'"}],
              "mark": {"type": "line", "color": "#a8a8a8", "strokeWidth": 1},
              "encoding": {
                "x": {"field": "i", "type": "quantitative", "axis": null},
                "y": {"field": "p", "type": "quantitative", "axis": null},
                "detail": {"field": "name"}
              }
            },
            {
              "data": {"name": "trend"},
              "transform": [{"filter": "datum.name == 'ch1' || datum.name == 'ch2'"}],
              "mark": {"type": "line", "color": "#4db08a", "strokeWidth": 2.5, "strokeDash": [6, 5], "opacity": 0.8},
              "encoding": {
                "x": {"field": "i", "type": "quantitative", "axis": null},
                "y": {"field": "p", "type": "quantitative", "axis": null},
                "detail": {"field": "name"}
              }
            },
            {
              "data": {"name": "trend"},
              "transform": [{"filter": "datum.name == 'upper' || datum.name == 'lower'"}],
              "mark": {"type": "line", "color": "#2d3236", "strokeWidth": 5, "strokeDash": [9, 12], "strokeCap": "round"},
              "encoding": {
                "x": {"field": "i", "type": "quantitative", "axis": null},
                "y": {"field": "p", "type": "quantitative", "axis": null},
                "detail": {"field": "name"}
              }
            },
            {
              "data": {"values": [{}]},
              "mark": {"type": "text", "text": "0", "align": "left", "baseline": "middle", "fontSize": 14, "color": "#ff9800"},
              "encoding": {
                "x": {"datum": 259.5, "type": "quantitative", "axis": null},
                "y": {"datum": 3585, "type": "quantitative", "axis": null}
              }
            },
            {
              "data": {"name": "levels"},
              "mark": {"type": "bar", "orient": "horizontal", "size": 15, "color": "#b00000"},
              "encoding": {
                "x": {"datum": 261.9, "type": "quantitative", "axis": null},
                "x2": {"datum": 272.4},
                "y": {"field": "p", "type": "quantitative", "axis": null}
              }
            },
            {
              "data": {"name": "levels"},
              "mark": {"type": "text", "align": "left", "baseline": "middle", "fontSize": 12, "color": "#ffffff", "clip": true},
              "encoding": {
                "x": {"datum": 263.1, "type": "quantitative", "axis": null},
                "y": {"field": "p", "type": "quantitative", "axis": null},
                "text": {"field": "t"}
              }
            },
            {
              "data": {"name": "fibPurple"},
              "mark": {"type": "text", "align": "right", "baseline": "bottom", "dy": -2, "fontSize": 11, "color": "#7e57c2"},
              "encoding": {
                "x": {"datum": 271.9, "type": "quantitative", "axis": null},
                "y": {"field": "p", "type": "quantitative", "axis": null},
                "text": {"field": "t"},
                "opacity": {"condition": {"test": "datum.t == '61.8' || datum.t == '0.0'", "value": 0.55}, "value": 1}
              }
            },
            {
              "data": {"name": "fibGray"},
              "transform": [{"filter": "datum.t != '0.0'"}],
              "mark": {"type": "text", "align": "right", "baseline": "bottom", "dy": -2, "fontSize": 11, "color": "#cfd8dc"},
              "encoding": {
                "x": {"datum": 271.9, "type": "quantitative", "axis": null},
                "y": {"field": "p", "type": "quantitative", "axis": null},
                "text": {"field": "t"}
              }
            },
            {
              "data": {"values": [{}]},
              "mark": {"type": "text", "text": "GOLD", "align": "left", "baseline": "middle", "fontSize": 12.5, "fontWeight": "bold", "color": "#37474f"},
              "encoding": {
                "x": {"datum": 3.7, "type": "quantitative", "axis": null},
                "y": {"datum": 5984.7, "type": "quantitative", "axis": null}
              }
            },
            {
              "data": {"values": [{}]},
              "mark": {"type": "text", "text": "CFD", "align": "left", "baseline": "middle", "fontSize": 7.5, "fontWeight": "bold", "color": "#9e9e9e"},
              "encoding": {
                "x": {"datum": 11.7, "type": "quantitative", "axis": null},
                "y": {"datum": 5980.3, "type": "quantitative", "axis": null}
              }
            },
            {
              "data": {"values": [{}]},
              "mark": {"type": "text", "text": "D1", "align": "left", "baseline": "middle", "fontSize": 11, "color": "#616161"},
              "encoding": {
                "x": {"datum": 28.7, "type": "quantitative", "axis": null},
                "y": {"datum": 5974, "type": "quantitative", "axis": null}
              }
            },
            {
              "data": {"values": [{}]},
              "mark": {"type": "point", "shape": "triangle-down", "size": 28, "filled": true, "color": "#757575", "opacity": 1},
              "encoding": {
                "x": {"datum": 17.9, "type": "quantitative", "axis": null},
                "y": {"datum": 5999, "type": "quantitative", "axis": null}
              }
            },
            {
              "data": {"values": [{}]},
              "mark": {"type": "point", "shape": "triangle-down", "size": 28, "filled": true, "color": "#757575", "opacity": 1},
              "encoding": {
                "x": {"datum": 35.9, "type": "quantitative", "axis": null},
                "y": {"datum": 5999, "type": "quantitative", "axis": null}
              }
            },
            {
              "data": {"values": [{}]},
              "mark": {"type": "text", "text": "☰ ✖", "align": "left", "baseline": "middle", "fontSize": 10, "color": "#b0b0b0"},
              "encoding": {
                "x": {"datum": 0.3, "type": "quantitative", "axis": null},
                "y": {"datum": 3616.4, "type": "quantitative", "axis": null}
              }
            },
            {
              "data": {"values": [{}]},
              "mark": {"type": "text", "text": "☰ ✖", "align": "left", "baseline": "middle", "fontSize": 10, "color": "#b0b0b0"},
              "encoding": {
                "x": {"datum": 0.3, "type": "quantitative", "axis": null},
                "y": {"datum": 3534.6, "type": "quantitative", "axis": null}
              }
            },
            {
              "data": {"values": [{}]},
              "mark": {"type": "text", "text": "SMA [100, 0] 4377.65", "align": "left", "baseline": "middle", "fontSize": 11, "color": "#8a8a8a"},
              "encoding": {
                "x": {"datum": 6.3, "type": "quantitative", "axis": null},
                "y": {"datum": 3616.4, "type": "quantitative", "axis": null}
              }
            },
            {
              "data": {"values": [{}]},
              "mark": {"type": "text", "text": "SMA [200, 0] 4532.87", "align": "left", "baseline": "middle", "fontSize": 11, "color": "#8a8a8a"},
              "encoding": {
                "x": {"datum": 6.3, "type": "quantitative", "axis": null},
                "y": {"datum": 3534.6, "type": "quantitative", "axis": null}
              }
            },
            {
              "data": {"values": [{}]},
              "mark": {"type": "rule", "color": "#e0e0e0", "strokeWidth": 1},
              "encoding": {
                "x": {"datum": -1.17, "type": "quantitative", "axis": null},
                "x2": {"datum": 334.7},
                "y": {"datum": 3453.5, "type": "quantitative", "axis": null}
              }
            },
            {
              "data": {"values": [{}]},
              "mark": {"type": "bar", "orient": "horizontal", "size": 16, "color": "#7f8b90"},
              "encoding": {
                "x": {"datum": 319, "type": "quantitative", "axis": null},
                "x2": {"datum": 331.8},
                "y": {"datum": 4594.38, "type": "quantitative", "axis": null}
              }
            },
            {
              "data": {"values": [{}]},
              "mark": {"type": "point", "shape": "triangle-left", "size": 80, "filled": true, "color": "#7f8b90", "opacity": 1},
              "encoding": {
                "x": {"datum": 318.7, "type": "quantitative", "axis": null},
                "y": {"datum": 4594.38, "type": "quantitative", "axis": null}
              }
            },
            {
              "data": {"values": [{}]},
              "mark": {"type": "text", "text": "4594.38", "align": "center", "baseline": "middle", "fontSize": 12.5, "fontWeight": "bold", "color": "#ffffff"},
              "encoding": {
                "x": {"datum": 325.5, "type": "quantitative", "axis": null},
                "y": {"datum": 4594.38, "type": "quantitative", "axis": null}
              }
            },
            {
              "data": {"values": [{}]},
              "mark": {"type": "bar", "orient": "horizontal", "size": 15, "color": "#e53935", "cornerRadius": 4},
              "encoding": {
                "x": {"datum": 321.8, "type": "quantitative", "axis": null},
                "x2": {"datum": 331.1},
                "y": {"datum": 3550.4, "type": "quantitative", "axis": null}
              }
            }
          ]
        },
        {
          "data": {"values": [{}]},
          "mark": {"type": "rule", "strokeOpacity": 0},
          "encoding": {
            "y": {"datum": 7131, "type": "quantitative", "scale": {"domain": [6075.8, 8095], "nice": false, "zero": false},
              "axis": {"orient": "right", "offset": 66, "values": [7834.6, 7658.7, 7482.8, 7306.9, 7131.0, 6955.1, 6779.2, 6603.3, 6427.4], "format": ".1f",
                "title": null, "grid": false, "domain": true, "domainColor": "#eeeeee", "tickSize": 4, "tickColor": "#e0e0e0",
                "labelPadding": 6, "labelFontSize": 12, "labelColor": "#424242", "labelOverlap": false}}
          }
        },
        {
          "data": {"values": [{}]},
          "mark": {"type": "rule", "strokeOpacity": 0},
          "encoding": {
            "y": {"datum": 97.656, "type": "quantitative", "scale": {"domain": [94.443, 101.173], "nice": false, "zero": false, "reverse": true},
              "axis": {"orient": "right", "offset": 133, "values": [95.311, 95.897, 96.484, 97.070, 97.656, 98.243, 98.829, 99.415, 100.001], "format": ".3f",
                "title": null, "grid": false, "domain": true, "domainColor": "#eeeeee", "tickSize": 4, "tickColor": "#e0e0e0",
                "labelPadding": 5, "labelFontSize": 12, "labelColor": "#424242", "labelOverlap": false}}
          }
        },
        {
          "data": {"values": [{"inst": "TNOTE"}, {"inst": "US500"}, {"inst": "USDIDX"}, {"inst": "GOLD"}]},
          "mark": {"type": "square", "opacity": 0},
          "encoding": {
            "color": {"field": "inst", "type": "nominal",
              "scale": {"domain": ["TNOTE", "US500", "USDIDX", "GOLD"], "range": ["#1e88e5", "#fdd835", "#4fc3f7", "#22a36b"]},
              "legend": {"orient": "none", "legendX": 1184, "legendY": 386, "direction": "horizontal", "title": null,
                "symbolType": "square", "symbolSize": 30, "symbolOpacity": 1, "symbolStrokeWidth": 0,
                "labelFontSize": 9.5, "labelFontWeight": "bold", "labelColor": "#37474f", "labelOffset": 4,
                "columnPadding": 20, "gridAlign": "all", "padding": 0}}
          }
        }
      ]
    },
    {
      "width": 1168,
      "height": 115,
      "layer": [
        {
          "data": {"name": "bands"},
          "mark": {"type": "rect", "color": "#e6e6e6"},
          "encoding": {
            "x": {"datum": -1.17, "type": "quantitative", "scale": {"domain": [-1.17, 272.4], "nice": false, "zero": false}, "title": null},
            "x2": {"datum": 272.4},
            "y": {"field": "v1", "type": "quantitative", "scale": {"domain": [24137, 391091], "nice": false, "zero": false}, "title": null},
            "y2": {"field": "v2"}
          }
        },
        {
          "data": {"values": [{}]},
          "mark": {"type": "text", "text": "☰ ✖", "align": "left", "baseline": "middle", "fontSize": 10, "color": "#b0b0b0"},
          "encoding": {
            "x": {"datum": 0.3, "type": "quantitative", "title": null},
            "y": {"datum": 43283, "type": "quantitative", "title": null}
          }
        },
        {
          "data": {"values": [{}]},
          "mark": {"type": "text", "text": "COT", "align": "left", "baseline": "middle", "fontSize": 11, "color": "#616161"},
          "encoding": {
            "x": {"datum": 6.3, "type": "quantitative", "title": null},
            "y": {"datum": 43283, "type": "quantitative", "title": null}
          }
        },
        {
          "data": {"name": "cot"},
          "mark": {"type": "line", "color": "#8fd9b6", "strokeWidth": 2},
          "encoding": {
            "x": {"field": "i", "type": "quantitative", "title": null,
              "axis": {"orient": "bottom", "values": [0, 33, 66, 99, 132, 165, 198, 231, 264],
                "labelExpr": "['28.10.2025','12.12.2025','30.01.2026','16.03.2026','30.04.2026','16.06.2026','31.07.2026','10.09.2026','13.10.2026'][round(datum.value / 33)]",
                "title": null, "grid": false, "domain": false, "tickSize": 4, "tickColor": "#cfd8dc",
                "labelAlign": "left", "labelFlush": false, "labelPadding": -2, "labelFontSize": 12, "labelColor": "#424242", "labelOverlap": false}},
            "y": {"field": "v", "type": "quantitative", "title": null,
              "axis": {"orient": "right", "values": [352800, 256878, 57000], "format": "d", "title": null, "grid": false, "domain": false,
                "tickSize": 4, "tickColor": "#e0e0e0", "labelPadding": 200, "labelFontSize": 12, "labelColor": "#424242", "labelOverlap": false}}
          }
        }
      ]
    }
  ]
}
